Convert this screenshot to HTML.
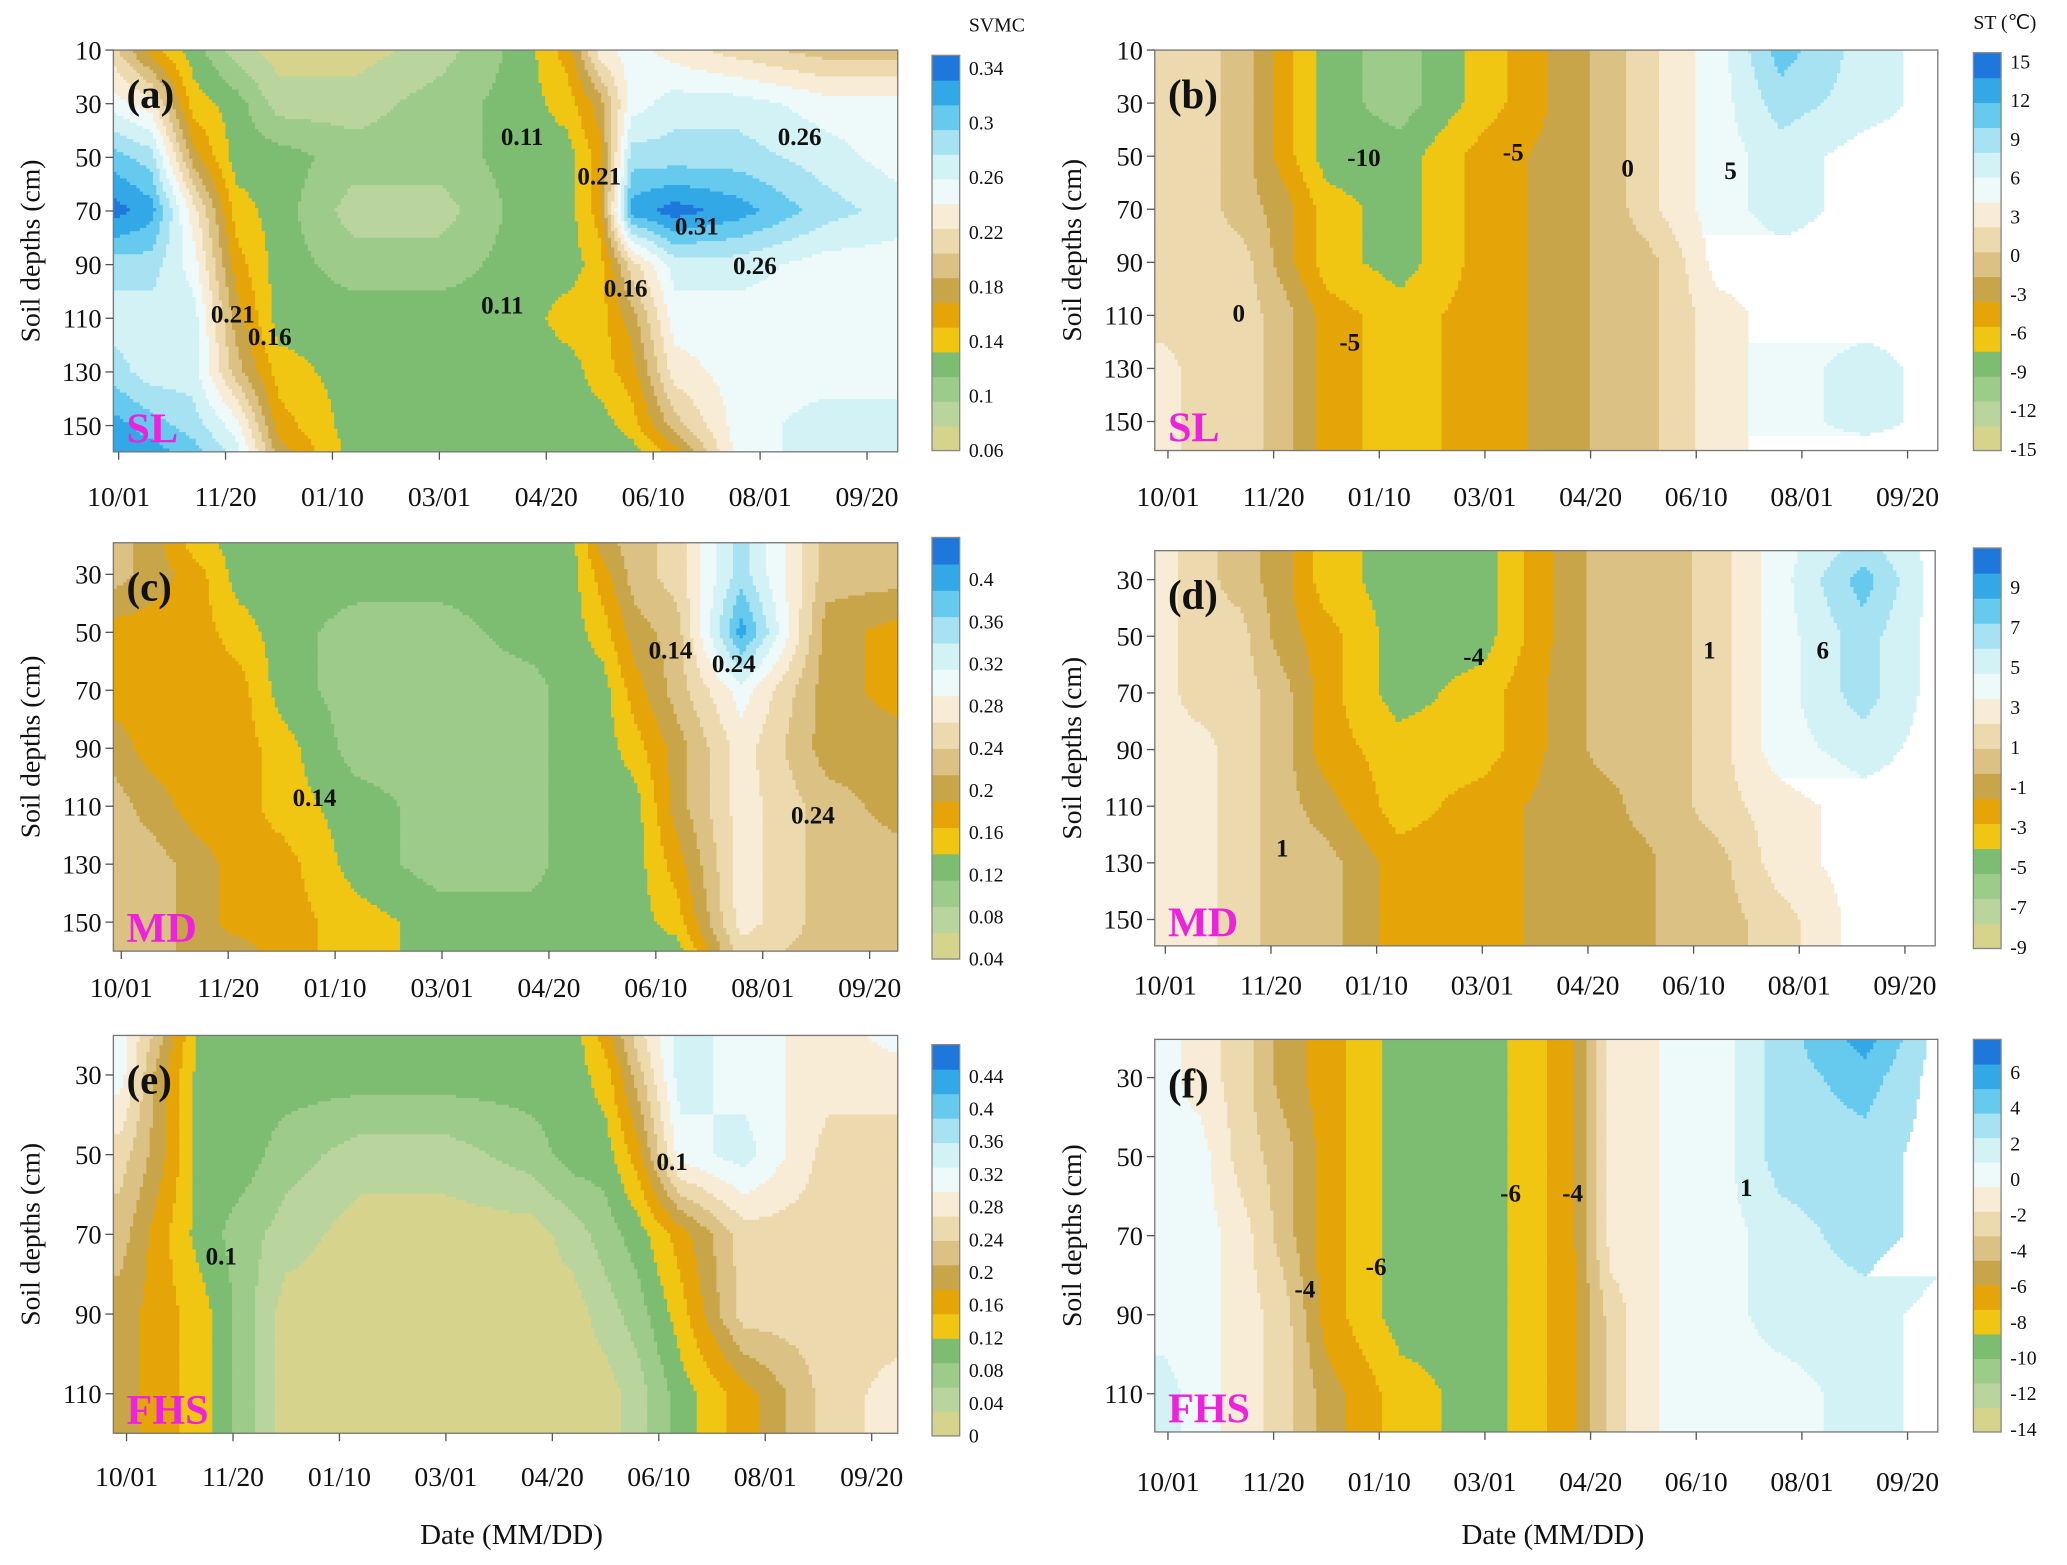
<!DOCTYPE html>
<html><head><meta charset="utf-8"><style>
html,body{margin:0;padding:0;background:#fff;}
svg{display:block;font-family:"Liberation Serif",serif;}
</style></head><body>
<svg id="chart" width="2067" height="1565" viewBox="0 0 1568 1188" preserveAspectRatio="none" xmlns="http://www.w3.org/2000/svg"></svg>
<script>
// ---- data ----
const palette = ["#d6d48c","#b9d49c","#9ccb8a","#7dbd72","#f0c612","#e5a508","#c9a54a","#dbc284","#ecd9ae","#f8ecd6","#eefafa","#d2f2f6","#a6e2f2","#66c9ee","#32a8e6","#1e78dc"];
const days = [-3,15,35,55,75,110,150,190,210,225,240,260,290,330,365];
const depthA = [10,30,50,70,90,110,130,150,160];
const depthC = [20,30,50,70,90,110,130,150,160];
const depthE = [20,30,50,70,90,110,120];
const gridA = [
[8,5,3,1,0,0,1,3,5,9,10,9,8,7,7],
[10,9,4,3,1,1,2,3,4,6,10,11,11,10,10],
[13,12,6,3,3,2,2,3,3,5,12,12,12,11,10],
[15,14,9,4,3,1,1,3,3,5,14,15,14,12,11],
[12,12,10,5,3,2,2,3,3,4,8,11,11,10,10],
[11,11,11,6,3,3,3,3,4,4,6,10,10,10,10],
[12,11,11,7,4,3,3,3,3,4,5,9,10,10,10],
[14,13,12,10,5,3,3,3,3,3,4,7,10,11,11],
[14,14,13,11,6,3,3,3,3,3,3,5,10,11,11]];
const gridB = [
[8,8,7,5,3,2,4,6,7,8,9,10,13,11,10],
[8,8,7,5,3,2,4,6,7,8,9,10,12,11,10],
[8,8,7,5,3,3,5,6,7,8,9,10,11,10,10],
[8,8,7,6,4,3,5,6,7,8,9,10,11,10,10],
[8,8,8,6,4,3,5,6,7,7,8,10,10,10,10],
[8,8,8,7,5,4,5,6,7,7,8,9,10,10,10],
[9,8,8,7,5,4,5,6,7,7,8,9,10,11,10],
[9,8,8,7,5,4,5,6,7,7,8,9,10,11,10],
[9,8,8,7,5,4,5,6,7,7,8,9,10,10,10]];
const gridC = [
[7,6,4,3,3,3,3,3,3,6,7,8,12,7,7],
[7,6,5,3,3,3,3,3,3,5,7,8,12,7,7],
[5,5,5,4,3,2,2,3,3,4,6,7,14,6,5],
[5,5,5,5,3,2,2,2,3,3,5,7,10,6,5],
[6,5,5,5,4,2,2,2,3,3,4,6,9,6,6],
[7,6,5,5,4,3,2,2,3,3,3,6,9,7,6],
[7,7,6,5,5,3,2,2,3,3,3,5,9,7,7],
[7,7,6,5,5,4,3,3,3,3,3,4,9,7,7],
[7,7,6,6,5,4,3,3,3,3,3,3,8,7,7]];
const gridD = [
[9,8,7,6,4,3,3,6,7,7,7,8,10,12,10],
[9,8,7,6,4,3,3,6,7,7,7,8,10,13,10],
[9,8,8,6,5,3,3,6,7,7,7,8,10,12,10],
[9,8,8,7,5,3,4,6,7,7,7,8,10,12,10],
[9,9,8,7,5,4,4,6,7,7,7,8,10,11,10],
[9,9,8,7,6,4,5,6,6,7,7,8,9,10,10],
[9,9,8,7,7,5,5,6,6,6,7,7,9,10,10],
[9,9,8,7,7,5,5,6,6,6,7,7,8,10,10],
[9,9,8,7,7,5,5,6,6,6,7,7,8,10,10]];
const gridE = [
[10,7,3,3,3,3,3,3,3,5,8,11,10,9,10],
[10,6,3,3,3,3,3,3,3,4,7,11,10,9,9],
[8,6,3,3,2,1,1,2,3,3,5,10,11,8,8],
[7,5,3,2,1,0,0,0,1,2,3,5,8,8,8],
[6,5,4,2,0,0,0,0,0,1,2,4,8,8,8],
[6,5,4,2,0,0,0,0,0,0,1,3,5,8,9],
[6,5,4,2,0,0,0,0,0,0,1,3,5,8,9]];
const gridF = [
[10,9,8,6,5,3,3,5,9,9,10,10,12,14,11],
[10,9,8,6,5,3,3,5,9,9,10,10,12,13,11],
[10,10,8,7,5,3,3,5,9,9,10,10,12,12,11],
[10,10,9,7,5,3,3,5,9,9,10,10,11,12,11],
[10,10,9,8,5,3,3,5,8,9,10,10,11,11,10],
[11,10,9,8,6,4,3,5,8,9,10,10,10,11,10],
[11,10,9,8,6,4,3,5,8,9,10,10,10,11,10]];
const xTickLabels = ["10/01","11/20","01/10","03/01","04/20","06/10","08/01","09/20"];
const xTickDays = [0,50,100,150,200,250,300,350];
const cbA = ["0.34","0.3","0.26","0.22","0.18","0.14","0.1","0.06"];
const cbB = ["15","12","9","6","3","0","-3","-6","-9","-12","-15"];
const cbC = ["0.4","0.36","0.32","0.28","0.24","0.2","0.16","0.12","0.08","0.04"];
const cbD = ["9","7","5","3","1","-1","-3","-5","-7","-9"];
const cbE = ["0.44","0.4","0.36","0.32","0.28","0.24","0.2","0.16","0.12","0.08","0.04","0"];
const cbF = ["6","4","2","0","-2","-4","-6","-8","-10","-12","-14"];

const NS="http://www.w3.org/2000/svg";
const svg=document.getElementById('chart');
function mk(tag,attrs,parent){const e=document.createElementNS(NS,tag);for(const k in attrs)e.setAttribute(k,attrs[k]);(parent||svg).appendChild(e);return e;}

const panels=[
 {id:'a',grid:gridA,depth:depthA,x0:86,x1:681,y0:38,y1:343,day0x:90,ppd:1.622,d0:10,dy0:38,ppu:2.036,yt:[10,30,50,70,90,110,130,150],lab:'(a)',site:'SL',cb:cbA,cbx:707,cby0:42,cby1:342,cbt:52,cbb:342,title:'SVMC',tx:735,ty:24,xly:376,ylx:30},
 {id:'b',grid:gridB,depth:depthA,x0:876,x1:1470,y0:38,y1:342,day0x:886,ppd:1.603,d0:10,dy0:38,ppu:2.014,yt:[10,30,50,70,90,110,130,150],lab:'(b)',site:'SL',cb:cbB,cbx:1497,cby0:40,cby1:342,cbt:47,cbb:341,title:'ST (℃)',tx:1497,ty:22,xly:376,ylx:820},
 {id:'c',grid:gridC,depth:depthC,x0:86,x1:681,y0:412,y1:722,day0x:92,ppd:1.622,d0:30,dy0:436,ppu:2.2,yt:[30,50,70,90,110,130,150],lab:'(c)',site:'MD',cb:cbC,cbx:707,cby0:408,cby1:728,cbt:440,cbb:728,title:'',xly:749,ylx:30},
 {id:'d',grid:gridD,depth:depthC,x0:876,x1:1468,y0:418,y1:718,day0x:884,ppd:1.603,d0:30,dy0:440,ppu:2.15,yt:[30,50,70,90,110,130,150],lab:'(d)',site:'MD',cb:cbD,cbx:1497,cby0:416,cby1:720,cbt:446,cbb:719,title:'',xly:747,ylx:820},
 {id:'e',grid:gridE,depth:depthE,x0:86,x1:681,y0:786,y1:1088,day0x:96,ppd:1.615,d0:30,dy0:816,ppu:3.025,yt:[30,50,70,90,110],lab:'(e)',site:'FHS',cb:cbE,cbx:707,cby0:793,cby1:1090,cbt:817,cbb:1090,title:'',xly:1120,ylx:30},
 {id:'f',grid:gridF,depth:depthE,x0:876,x1:1470,y0:789,y1:1087,day0x:886,ppd:1.603,d0:30,dy0:818,ppu:3.0,yt:[30,50,70,90,110],lab:'(f)',site:'FHS',cb:cbF,cbx:1497,cby0:789,cby1:1087,cbt:814,cbb:1085,title:'',xly:1124,ylx:820}
];

function interp1(arr,v){
  if(v<=arr[0])return [0,0];
  const n=arr.length;
  if(v>=arr[n-1])return [n-2,1];
  for(let i=0;i<n-1;i++){if(v<=arr[i+1])return [i,(v-arr[i])/(arr[i+1]-arr[i])];}
  return [n-2,1];
}

panels.forEach(p=>{
  const g=mk('g',{},svg);
  
  
  const xScale=d=>p.day0x+d*p.ppd;
  const yScale=z=>p.dy0+(z-p.d0)*p.ppu;
  const dayOf=x=>(x-p.day0x)/p.ppd;
  const depOf=y=>p.d0+(y-p.dy0)/p.ppu;
  const step=2.5;
  const field=mk('g',{},g);
  
  
  for(let y=p.y0;y<p.y1;y+=step){
    const h=Math.min(step,p.y1-y);
    const [ri,rt]=interp1(p.depth,depOf(y+h/2));
    let runStart=p.x0,runLev=-1;
    for(let x=p.x0;x<=p.x1;x+=step){
      let lev=-2;
      if(x<p.x1){
        const [ci,ct]=interp1(days,dayOf(x+step/2));
        const G=p.grid;
        const v=(1-rt)*((1-ct)*G[ri][ci]+ct*G[ri][ci+1])+rt*((1-ct)*G[ri+1][ci]+ct*G[ri+1][ci+1]);
        lev=Math.max(0,Math.min(15,Math.round(v)));
      }
      if(lev!==runLev){
        if(runLev>=0){
          const r=mk('rect',{x:runStart,y:y,width:Math.min(x,p.x1)-runStart+0.4,height:h+0.4,fill:palette[runLev]},field);
          
          
        }
        runStart=x;runLev=lev;
      }
    }
  }
  const fr=mk('rect',{x:p.x0,y:p.y0,width:p.x1-p.x0,height:p.y1-p.y0,fill:'none',stroke:'#777','stroke-width':1},g);
  
  
  xTickDays.forEach((d,i)=>{
    const x=xScale(d);
    mk('line',{x1:x,x2:x,y1:p.y1,y2:p.y1+6,stroke:'#555'},g);
    const t=mk('text',{x:x,y:p.xly+8,'font-size':21,'text-anchor':'middle',fill:'#111'},g);
    t.textContent=xTickLabels[i];
    
    
  });
  p.yt.forEach(z=>{
    const y=yScale(z);
    mk('line',{x1:p.x0-6,x2:p.x0,y1:y,y2:y,stroke:'#555'},g);
    const t=mk('text',{x:p.x0-9,y:y+7,'font-size':20,'text-anchor':'end',fill:'#111'},g);
    t.textContent=z;
    
    
  });
  const yt=mk('text',{x:p.ylx,y:(p.y0+p.y1)/2,'font-size':21,'text-anchor':'middle',fill:'#111',transform:`rotate(-90 ${p.ylx} ${(p.y0+p.y1)/2})`},g);
  yt.textContent='Soil depths (cm)';
  
  
  const pl=mk('text',{x:p.x0+10,y:p.y0+44,'font-size':31,'font-weight':'bold',fill:'#111'},g);
  pl.textContent=p.lab;
  
  
  const sl=mk('text',{x:p.x0+10,y:p.y1-7,'font-size':32,'font-weight':'bold',fill:'#ee22dd'},g);
  sl.textContent=p.site;
  
  
  const cb=mk('g',{},g);
  
  
  const n=palette.length, sh=(p.cby1-p.cby0)/n;
  palette.forEach((c,i)=>{
    const r=mk('rect',{x:p.cbx,y:p.cby1-(i+1)*sh,width:21,height:sh+0.5,fill:c},cb);
    
    
  });
  mk('rect',{x:p.cbx,y:p.cby0,width:21,height:p.cby1-p.cby0,fill:'none',stroke:'#888'},cb);
  p.cb.forEach((s,i)=>{
    const y=p.cbt+i*(p.cbb-p.cbt)/(p.cb.length-1);
    const t=mk('text',{x:p.cbx+28,y:y+5,'font-size':15,fill:'#111'},cb);
    t.textContent=s;
    
    
  });
  if(p.title){
    const t=mk('text',{x:p.tx,y:p.ty,'font-size':15,fill:'#111'},cb);
    t.textContent=p.title;
    
    
  }
});
[[388,'x-axis-title-left'],[1178,'x-axis-title-right']].forEach(([x,nm])=>{
  const t=mk('text',{x:x,y:1172,'font-size':22,'text-anchor':'middle',fill:'#111'});
  t.textContent='Date (MM/DD)';
  
  
});
const cl=[[380,110,'0.11'],[590,110,'0.26'],[512,178,'0.31'],[556,208,'0.26'],[365,238,'0.11'],[935,244,'0'],[1022,126,'-10'],[1140,122,'-5'],[1230,134,'0'],[1308,136,'5'],[1016,266,'-5'],[492,500,'0.14'],[540,510,'0.24'],[222,612,'0.14'],[600,625,'0.24'],[968,650,'1'],[1110,505,'-4'],[1292,500,'1'],[1378,500,'6'],[498,888,'0.1'],[156,960,'0.1'],[1320,908,'1'],[982,985,'-4'],[1036,968,'-6'],[1138,912,'-6'],[1185,912,'-4'],[160,245,'0.21'],[188,262,'0.16'],[438,140,'0.21'],[458,225,'0.16']];
cl.forEach(([x,y,s])=>{
  const t=mk('text',{x:x,y:y,'font-size':19,'font-weight':'bold',fill:'#111'});
  t.textContent=s;
  
  
});
</script>
</body></html>
